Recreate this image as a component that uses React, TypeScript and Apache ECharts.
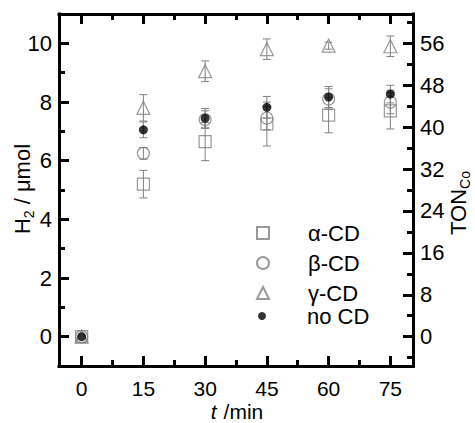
import React, { useEffect, useRef } from 'react';
import * as echarts from 'echarts';

const times = [0, 15, 30, 45, 60, 75];
const alphaCD = [0, 5.2, 6.65, 7.25, 7.55, 7.7];
const alphaErr = [0, 0.47, 0.65, 0.75, 0.6, 0.62];
const betaCD = [0, 6.25, 7.4, 7.45, 8.1, 8.0];
const betaErr = [0, 0.2, 0.3, 0.4, 0.35, 0.4];
const gammaCD = [0, 7.8, 9.05, 9.8, 9.92, 9.9];
const gammaErr = [0, 0.45, 0.35, 0.35, 0.12, 0.35];
const noCD = [0, 7.05, 7.45, 7.82, 8.17, 8.27];
const noCDErr = [0, 0.27, 0.33, 0.37, 0.36, 0.3];

const xMajorTicks = [0, 15, 30, 45, 60, 75];
const xMinorTicks = [7.5, 22.5, 37.5, 52.5, 67.5];
const yMajorTicks = [0, 2, 4, 6, 8, 10];
const yMinorTicks = [1, 3, 5, 7, 9];
const tonMajorTicks = [0, 8, 16, 24, 32, 40, 48, 56];
const tonMinorTicks = [-4, 4, 12, 20, 28, 36, 44, 52, 60];

const FONT = 'Liberation Sans, Arial, sans-serif';
const GRAY = '#808080';
const TON_PER_UMOL = 5.6;

export default function App() {
  const ref = useRef<HTMLDivElement>(null);
  useEffect(() => {
    if (!ref.current) return;
    const chart = echarts.init(ref.current, null, { renderer: 'svg' });
    const grid = { left: 59, right: 62, top: 14, bottom: 57, containLabel: false };
    const xMin = -5.5, xMax = 80.5, yMin = -1, yMax = 11;

    const pts = (vals: number[]) => times.map((t, i) => [t, vals[i]]);
    const errs = (vals: number[], e: number[]) =>
      times.map((t, i) => [t, vals[i], e[i]]).filter((d) => d[2] > 0);

    const errSeries = (name: string, vals: number[], e: number[]) => ({
      type: 'custom',
      name,
      xAxisIndex: 0,
      yAxisIndex: 0,
      data: errs(vals, e),
      z: 1,
      renderItem: (params: any, api: any) => {
        const x = api.value(0), y = api.value(1), er = api.value(2);
        const top = api.coord([x, y + er]);
        const bot = api.coord([x, y - er]);
        const hw = 4;
        const st = { stroke: GRAY, lineWidth: 1 };
        return {
          type: 'group',
          children: [
            { type: 'line', shape: { x1: top[0], y1: top[1], x2: bot[0], y2: bot[1] }, style: st },
            { type: 'line', shape: { x1: top[0] - hw, y1: top[1], x2: top[0] + hw, y2: top[1] }, style: st },
            { type: 'line', shape: { x1: bot[0] - hw, y1: bot[1], x2: bot[0] + hw, y2: bot[1] }, style: st },
          ],
        };
      },
    });

    const axisLine = { show: true, onZero: false, lineStyle: { color: '#000', width: 3, cap: 'square' } };
    const noLine = { show: false, onZero: false };
    const label = { fontSize: 22, lineHeight: 20, color: '#000', fontFamily: FONT };

    const xAxisBase = (gridIndex: number, position: string, ticks: number[], len: number, showLabel: boolean, showLine: boolean) => ({
      type: 'value',
      gridIndex,
      position,
      min: xMin,
      max: xMax,
      axisLine: showLine ? axisLine : noLine,
      axisTick: { show: true, inside: true, length: len, lineStyle: { color: '#000', width: 3 }, customValues: ticks },
      axisLabel: showLabel ? { ...label, fontSize: 21, margin: 12, customValues: ticks } : { show: false },
      splitLine: { show: false },
    });
    const yAxisBase = (gridIndex: number, position: string, min: number, max: number, ticks: number[], len: number, showLabel: boolean, showLine: boolean) => ({
      type: 'value',
      gridIndex,
      position,
      min,
      max,
      axisLine: showLine ? axisLine : noLine,
      axisTick: { show: true, inside: true, length: len, lineStyle: { color: '#000', width: 3 }, customValues: ticks },
      axisLabel: showLabel ? { ...label, margin: 7, customValues: ticks } : { show: false },
      splitLine: { show: false },
    });

    const legendText = (pad: number) => ({
      fontSize: 22,
      lineHeight: 20,
      color: '#000',
      fontFamily: FONT,
      padding: [0, 0, 0, pad],
    });

    chart.setOption({
      animation: false,
      backgroundColor: '#fff',
      grid: [grid, grid],
      xAxis: [
        xAxisBase(0, 'bottom', xMajorTicks, 10, true, true),
        xAxisBase(0, 'top', xMajorTicks, 10, false, true),
        xAxisBase(1, 'bottom', xMinorTicks, 6, false, false),
        xAxisBase(1, 'top', xMinorTicks, 6, false, false),
      ],
      yAxis: [
        yAxisBase(0, 'left', yMin, yMax, yMajorTicks, 10, true, true),
        yAxisBase(0, 'right', yMin * TON_PER_UMOL, yMax * TON_PER_UMOL, tonMajorTicks, 10, true, true),
        yAxisBase(1, 'left', yMin, yMax, yMinorTicks, 6, false, false),
        yAxisBase(1, 'right', yMin * TON_PER_UMOL, yMax * TON_PER_UMOL, tonMinorTicks, 6, false, false),
      ],
      legend: [
        {
          data: ['α-CD', 'β-CD', 'γ-CD'],
          orient: 'vertical',
          left: 256,
          top: 222,
          padding: 0,
          itemWidth: 12,
          itemHeight: 12,
          itemGap: 8,
          textStyle: legendText(34),
        },
        {
          data: ['no CD'],
          orient: 'vertical',
          left: 258,
          top: 305,
          padding: 0,
          itemWidth: 8,
          itemHeight: 8,
          textStyle: legendText(36),
        },
      ],
      series: [
        errSeries('α-CD err', alphaCD, alphaErr),
        errSeries('β-CD err', betaCD, betaErr),
        errSeries('γ-CD err', gammaCD, gammaErr),
        errSeries('no CD err', noCD, noCDErr),
        {
          type: 'scatter', name: 'α-CD', data: pts(alphaCD), symbol: 'rect', symbolSize: 12, z: 2,
          itemStyle: { color: 'rgba(255,255,255,0)', borderColor: GRAY, borderWidth: 1.2 },
        },
        {
          type: 'scatter', name: 'β-CD', data: pts(betaCD), symbol: 'circle', symbolSize: 12, z: 2,
          itemStyle: { color: 'rgba(255,255,255,0)', borderColor: GRAY, borderWidth: 1.2 },
        },
        {
          type: 'scatter', name: 'γ-CD', data: pts(gammaCD), symbol: 'triangle', symbolSize: 13, z: 2,
          itemStyle: { color: 'rgba(255,255,255,0)', borderColor: GRAY, borderWidth: 1.2 },
        },
        {
          type: 'scatter', name: 'no CD', data: pts(noCD), symbol: 'circle', symbolSize: 9, z: 3,
          itemStyle: { color: '#000', borderWidth: 0 },
        },
      ],
      graphic: [
        {
          type: 'text', x: 22, y: 189, rotation: Math.PI / 2,
          style: {
            text: '{a|H}{s|2}{a| / μmol}',
            align: 'center', verticalAlign: 'middle',
            rich: {
              a: { fontSize: 22, lineHeight: 28, fontFamily: FONT, fill: '#000', color: '#000' },
              s: { fontSize: 14, lineHeight: 14, fontFamily: FONT, verticalAlign: 'bottom', fill: '#000', color: '#000' },
            },
          },
        },
        {
          type: 'text', x: 458, y: 203, rotation: Math.PI / 2,
          style: {
            text: '{a|TON}{s|Co}',
            align: 'center', verticalAlign: 'middle',
            rich: {
              a: { fontSize: 22, lineHeight: 28, fontFamily: FONT, fill: '#000', color: '#000' },
              s: { fontSize: 14, lineHeight: 14, fontFamily: FONT, verticalAlign: 'bottom', fill: '#000', color: '#000' },
            },
          },
        },
        {
          type: 'text', x: 237, y: 411,
          style: {
            text: '{i|t}{a|/min}',
            align: 'center', verticalAlign: 'middle',
            rich: {
              i: { fontSize: 21, lineHeight: 18, fontStyle: 'italic', fontFamily: FONT, fill: '#000', color: '#000', padding: [0, 7, 0, 0] },
              a: { fontSize: 21, lineHeight: 18, fontFamily: FONT, fill: '#000', color: '#000' },
            },
          },
        },
      ],
    });
    return () => chart.dispose();
  }, []);
  return <div ref={ref} style={{ position: 'absolute', left: 0, top: 0, width: 475, height: 423 }} />;
}
